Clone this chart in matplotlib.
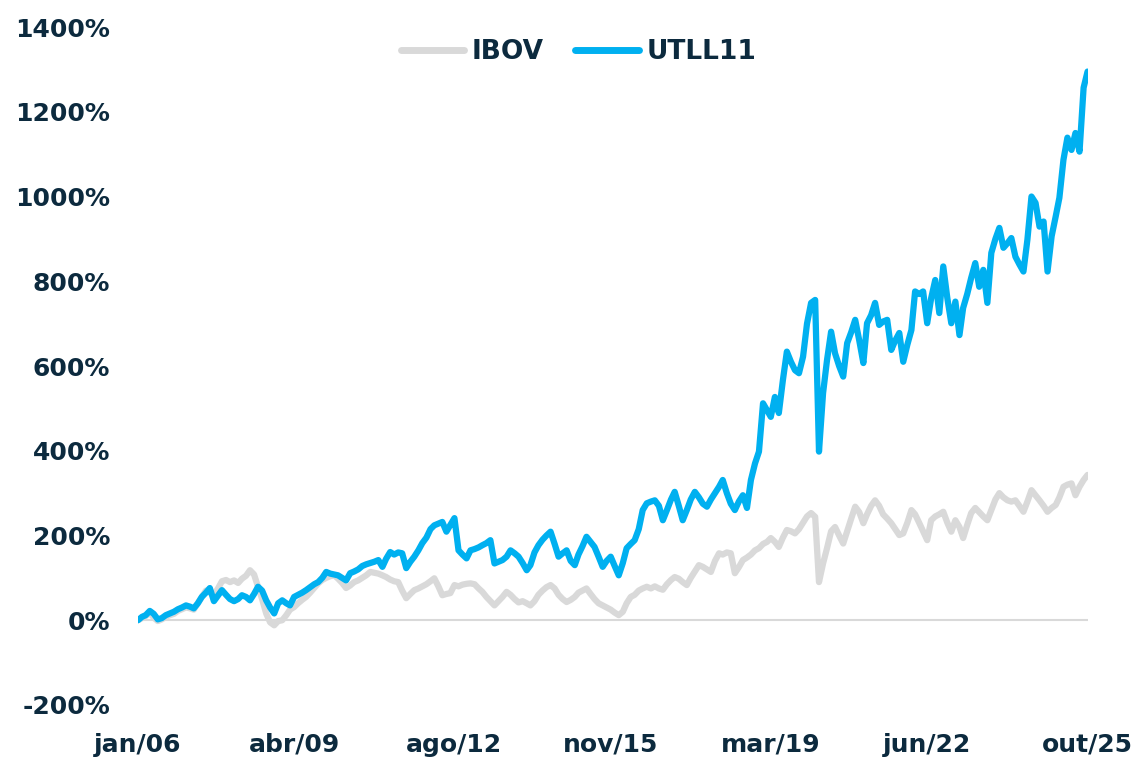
import numpy as np
import pandas as pd
import matplotlib
matplotlib.use("Agg")
import matplotlib.pyplot as plt

# monthly closes, cumulative return in %, jan/06 .. out/25
months = pd.date_range("2006-01-01", "2025-10-01", freq="MS")

utll11 = [
    0, 8, 12, 22, 15, 2, 5, 12, 16, 20, 26, 30,                       # 2006
    35, 32, 28, 40, 55, 65, 76, 45, 58, 71, 60, 50,                   # 2007
    45, 50, 59, 55, 47, 62, 79, 70, 47, 30, 16, 40,                   # 2008
    47, 40, 35, 55, 60, 65, 71, 78, 85, 90, 100, 114,                 # 2009
    110, 108, 106, 100, 94, 111, 115, 120, 128, 132, 135, 138,        # 2010
    142, 126, 145, 161, 155, 160, 158, 123, 138, 150, 165, 182,       # 2011
    195, 215, 224, 228, 232, 209, 225, 241, 165, 155, 146, 165,       # 2012
    168, 172, 177, 182, 189, 134, 138, 142, 150, 165, 158, 150,       # 2013
    135, 118, 130, 160, 177, 190, 200, 209, 180, 150, 158, 165,       # 2014
    140, 130, 155, 175, 197, 185, 173, 150, 126, 140, 150, 128,       # 2015
    106, 135, 170, 180, 189, 215, 260, 276, 280, 283, 270, 236,       # 2016
    260, 285, 303, 270, 236, 260, 285, 303, 290, 275, 268, 285,       # 2017
    300, 315, 331, 300, 275, 260, 280, 295, 265, 331, 370, 398,       # 2018
    512, 495, 480, 527, 489, 567, 634, 610, 590, 583, 622, 700,       # 2019
    749, 756, 398, 536, 614, 681, 630, 600, 575, 654, 680, 709,       # 2020
    660, 607, 701, 720, 749, 697, 705, 709, 638, 660, 678, 610,       # 2021
    650, 685, 776, 770, 776, 701, 760, 803, 725, 835, 760, 701,       # 2022
    752, 673, 737, 770, 808, 843, 787, 827, 749, 867, 900, 926,       # 2023
    879, 890, 902, 858, 840, 823, 898, 1000, 985, 929, 941, 823,      # 2024
    906, 953, 997, 1087, 1139, 1110, 1150, 1106, 1257, 1295,          # 2025
]

ibov = [
    0, 5, 10, 18, 6, -2, 2, 8, 12, 15, 22, 26,                        # 2006
    30, 28, 25, 40, 55, 70, 65, 60, 75, 92, 95, 90,                   # 2007
    94, 88, 98, 105, 118, 108, 79, 50, 16, -5, -12, -2,               # 2008
    0, 12, 25, 31, 40, 48, 55, 65, 76, 87, 95, 100,                   # 2009
    104, 106, 98, 88, 76, 82, 90, 94, 100, 106, 114, 112,             # 2010
    110, 106, 102, 96, 92, 90, 70, 52, 62, 71, 75, 80,                # 2011
    85, 92, 99, 80, 59, 62, 64, 83, 80, 84, 86, 87,                   # 2012
    85, 75, 67, 55, 45, 35, 45, 55, 67, 60, 50, 42,                   # 2013
    45, 40, 35, 45, 60, 70, 78, 83, 75, 60, 50, 43,                   # 2014
    48, 55, 65, 70, 75, 62, 50, 40, 35, 30, 25, 18,                   # 2015
    12, 20, 40, 55, 60, 70, 75, 79, 75, 80, 75, 72,                   # 2016
    85, 95, 102, 98, 90, 83, 100, 115, 130, 126, 120, 114,            # 2017
    140, 158, 155, 160, 158, 111, 125, 142, 148, 155, 165, 170,       # 2018
    180, 185, 194, 185, 173, 195, 213, 210, 205, 215, 230, 245,       # 2019
    253, 244, 90, 134, 170, 210, 220, 200, 181, 210, 240, 268,        # 2020
    255, 229, 250, 270, 283, 270, 250, 240, 229, 215, 201, 205,       # 2021
    230, 260, 250, 230, 210, 189, 236, 245, 250, 256, 230, 209,       # 2022
    236, 220, 194, 225, 253, 265, 255, 245, 236, 260, 285, 300,       # 2023
    290, 283, 280, 283, 270, 256, 280, 307, 295, 283, 270, 256,       # 2024
    265, 272, 290, 315, 320, 323, 295, 315, 331, 343,                 # 2025
]

tick_dates = pd.to_datetime(["2006-01-01", "2009-04-01", "2012-08-01", "2015-11-01",
                             "2019-03-01", "2022-06-01", "2025-10-01"])
tick_labels = ["jan/06", "abr/09", "ago/12", "nov/15", "mar/19", "jun/22", "out/25"]
y_ticks = np.arange(-200, 1401, 200)

navy = "#0c2a3e"
blue = "#00b0f0"
grey = "#d9d9d9"

plt.rcParams["font.family"] = ["DejaVu Sans"]
plt.rcParams["font.weight"] = "bold"

fig = plt.figure(figsize=(11.4, 7.6), dpi=100)
ax = fig.add_axes([0.121, 0.0724, 0.833, 0.892])

ax.axhline(0, color=grey, lw=1.5, zorder=1)
ax.plot(months, ibov, color=grey, lw=4.5, solid_capstyle="round", solid_joinstyle="round", label="IBOV", zorder=2)
ax.plot(months, utll11, color=blue, lw=4.5, solid_capstyle="round", solid_joinstyle="round", label="UTLL11", zorder=3)

ax.set_xlim(months[0], months[-1])
ax.set_ylim(-200, 1400)
ax.set_yticks(y_ticks)
ax.set_yticklabels([f"{v}%" for v in y_ticks])
ax.set_xticks(tick_dates)
ax.set_xticklabels(tick_labels)

for s in ax.spines.values():
    s.set_visible(False)
ax.tick_params(axis="both", length=0, labelsize=18, labelcolor=navy)
ax.tick_params(axis="y", pad=20)
ax.tick_params(axis="x", pad=20)

leg = ax.legend(loc="center", bbox_to_anchor=(0.464, 0.963), ncol=2, frameon=False,
                fontsize=19, handlelength=2.4, handletextpad=0.3, columnspacing=1.2)
for t in leg.get_texts():
    t.set_color(navy)
for h in leg.get_lines():
    h.set_linewidth(5)
    h.set_solid_capstyle("round")

fig.savefig("out.png", dpi=100)
